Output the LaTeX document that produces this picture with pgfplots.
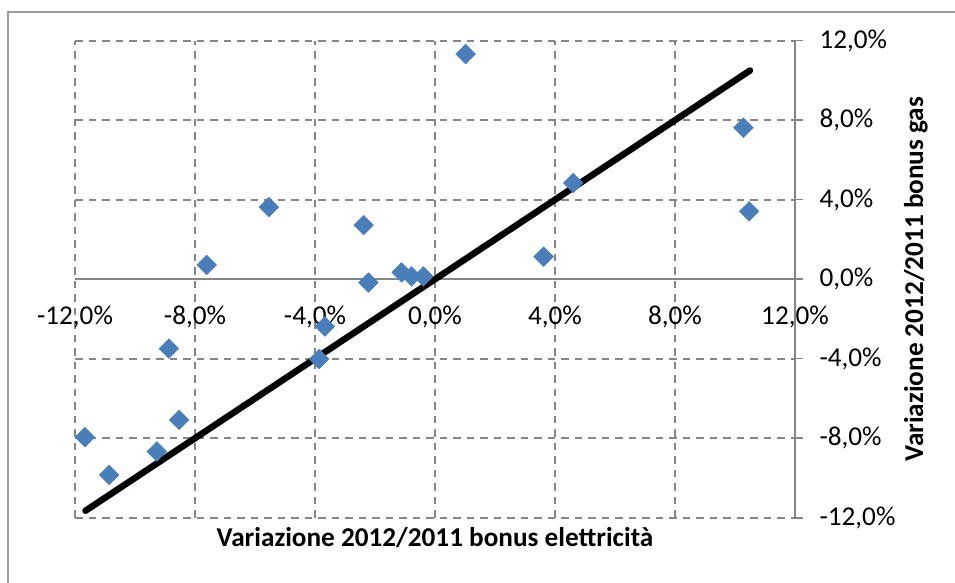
\documentclass[border=0pt]{standalone}
\usepackage{fontspec}
\setmainfont{Carlito}
\usepackage{pgfplots}
\pgfplotsset{compat=1.18}
\definecolor{ptblue}{HTML}{4A7EBB}
\definecolor{gridgray}{HTML}{868686}
\definecolor{framegray}{HTML}{9A9A9A}
\begin{document}
\begin{tikzpicture}
\begin{axis}[
  at={(0,0)}, anchor=south west,
  scale only axis, width=720bp, height=477bp,
  xmin=-12, xmax=12, ymin=-12, ymax=12,
  axis x line=middle, axis y line=right,
  hide obscured x ticks=false, hide obscured y ticks=false,
  axis line style={-, draw=gridgray, line width=1.6bp},
  xtick={-12,-8,-4,0,4,8,12},
  ytick={-12,-8,-4,0,4,8,12},
  xticklabels={{-12,0\%},{-8,0\%},{-4,0\%},{0,0\%},{4,0\%},{8,0\%},{12,0\%}},
  yticklabels={{-12,0\%},{-8,0\%},{-4,0\%},{0,0\%},{4,0\%},{8,0\%},{12,0\%}},
  grid=major,
  major grid style={draw=gridgray, line width=1.7bp, dash pattern=on 7.5bp off 6bp},
  x tick style={draw=none},
  y tick style={draw=gridgray, line width=1.6bp},
  tick align=outside,
  major tick length=8bp,
  tick label style={font=\fontsize{27.3}{32}\selectfont},
  xticklabel style={anchor=base, yshift=-37bp},
  yticklabel style={anchor=west, xshift=13bp},
  xlabel={\textbf{Variazione 2012/2011 bonus elettricità}},
  ylabel={\textbf{Variazione 2012/2011 bonus gas}},
  every axis x label/.style={at={(axis description cs:0.5,-0.0614)}, anchor=base, font=\fontsize{27.3}{32}\selectfont},
  every axis y label/.style={at={(axis description cs:1.178,0.5)}, rotate=90, anchor=base, font=\fontsize{27.3}{32}\selectfont},
  clip=false,
]
\addplot[only marks, mark=square*, mark size=7bp, mark options={rotate=45, fill=ptblue, draw=ptblue}] coordinates {
(1.02,11.33)
(-5.54,3.63)
(-2.38,2.72)
(-7.61,0.72)
(-2.22,-0.17)
(-1.11,0.34)
(-0.78,0.14)
(-0.39,0.14)
(10.28,7.62)
(4.61,4.84)
(10.47,3.41)
(3.62,1.13)
(-8.87,-3.49)
(-3.67,-2.38)
(-3.86,-4.02)
(-8.53,-7.08)
(-11.67,-7.95)
(-9.27,-8.67)
(-10.86,-9.85)
};
\addplot[black, line width=6.5bp, line cap=round] coordinates {(-11.65,-11.65) (10.5,10.5)};
\end{axis}
\draw[framegray, line width=1.3bp] (-67bp,-80bp) -- (-67bp,505.7bp) -- (900bp,505.7bp);
\pgfresetboundingbox
\path[use as bounding box] (-75bp,-65.3bp) rectangle (880bp,517.7bp);
\end{tikzpicture}
\end{document}
